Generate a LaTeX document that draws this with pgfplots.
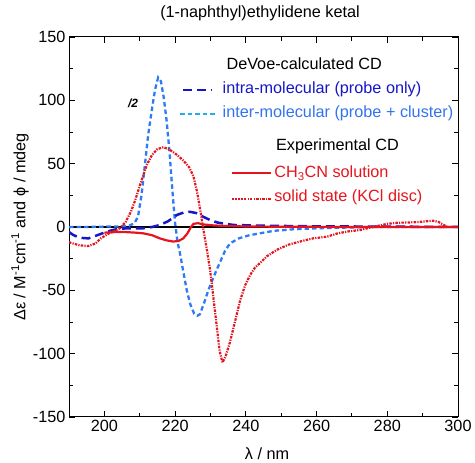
\documentclass[border=0pt]{standalone}
\usepackage{fontspec}
\setmainfont{Liberation Sans}
\usepackage{pgfplots}
\pgfplotsset{compat=1.18}
\definecolor{dblue}{RGB}{22,22,200}
\definecolor{lblue}{RGB}{47,122,245}
\definecolor{lbluetxt}{RGB}{50,115,240}
\definecolor{cyanl}{RGB}{30,175,240}
\definecolor{myred}{RGB}{230,20,30}
\newcommand{\fs}{\fontsize{16.3}{19}\selectfont}
\begin{document}
\begin{tikzpicture}[x=1bp,y=1bp]
\useasboundingbox (0,0) rectangle (475,463);
\begin{axis}[
  at={(69bp,46bp)}, anchor=south west,
  width=389bp, height=380bp, scale only axis,
  xmin=190, xmax=300, ymin=-150, ymax=150,
  xtick={200,220,...,300}, ytick={-150,-100,...,150},
  minor xtick={190,210,...,290}, minor ytick={-125,-75,...,125},
  tick align=inside, tick pos=both,
  major tick length=6bp, minor tick length=4bp,
  axis line style={line width=1bp},
  every tick/.style={line width=0.9bp, black},
  /pgf/number format/assume math mode=true,
  tick label style={font=\fs},
  title={(1-naphthyl)ethylidene ketal},
  every axis title/.style={font=\fs, at={(axis description cs:0.491,1.063)}, anchor=center},
  xlabel={λ / nm},
  every axis x label/.style={font=\fs, at={(axis description cs:0.509,-0.097)}, anchor=center},
  ylabel={Δε / M\textsuperscript{-1}cm\textsuperscript{-1} and ϕ / mdeg},
  every axis y label/.style={font=\fs, at={(axis description cs:-0.126,0.5)}, anchor=center, rotate=90},
  clip=true,
]
% zero line
\addplot[black, line width=1.3bp, forget plot] coordinates {(190,0) (300,0)};

% inter-molecular (probe + cluster), /2
\addplot[lblue, line width=2.3bp, dash pattern=on 4.5bp off 3bp] coordinates {
(190,0) (195,0) (200,0.3) (205,0.5) (207,1) (208.5,3) (209.5,8) (210.5,25) (211.5,50)
(212.4,73) (213.4,92) (214.3,108) (215.2,118) (216,115) (216.8,102) (217.6,84) (218.4,60)
(219.2,30) (220,3) (220.7,-12) (221.4,-21) (222.3,-35) (223.3,-50) (224.3,-61) (225.4,-68.5)
(226.3,-70) (227,-69) (228.2,-60) (229.4,-50) (230.8,-40) (232.2,-31) (234.1,-19) (235.5,-13)
(238,-9) (241,-6.5) (244,-5) (248,-3) (253.5,-1.8) (260,-1) (267.6,-0.5) (275,0) (290,0) (300,0)
};

% intra-molecular (probe only)
\addplot[dblue, line width=2.5bp, dash pattern=on 9bp off 5bp] coordinates {
(190,-4) (191.2,-6.3) (193,-8.5) (195.5,-9) (198,-6.5) (200.7,-3.7) (203,-2) (206.3,-1)
(211,-1) (213.5,0) (215.7,1.6) (218,4.5) (220.5,9.5) (222.5,11.5) (224.2,12) (226,11)
(228,8) (229.9,5.5) (232,3.5) (236.5,1.6) (245,1) (260,0.5) (280,0.3) (300,0)
};

% solid state (KCl disc)
\addplot[myred, line width=2.2bp, dash pattern=on 2.5bp off 1.2bp on 1.2bp off 1.2bp] coordinates {
(190,-12) (191.1,-13) (193,-14.5) (195.5,-15) (197.5,-13) (199,-9) (201,-5.5) (203,-3)
(204.4,-1) (206,4) (207.5,12) (208.7,21) (210.3,35) (212,49) (213.5,57) (215,61.5)
(216.7,63) (218.5,61) (220.5,57) (222.5,52) (224,47) (225.2,40) (226.2,28) (227.2,12)
(228,-2) (229,-18) (229.9,-34) (230.8,-55) (231.8,-79) (232.6,-98) (233.4,-107)
(234.3,-102) (235.5,-91) (237,-74) (238.4,-58) (239.8,-46) (241.2,-38) (242.6,-32)
(244,-28.5) (246,-23) (248.8,-18) (252,-14) (256,-11) (259,-9) (262.9,-7.7) (266,-5)
(269,-3.5) (272.3,-2.4) (276,0) (280,2.5) (283,3.4) (286,3.5) (289,4) (291,4.5) (293,5)
(294.5,4) (296,1.5) (297,0)
};

% CH3CN solution
\addplot[myred, line width=2.2bp] coordinates {
(200,-4.5) (203,-4) (206,-4) (209,-4.5) (211,-5) (213.5,-6.5) (215.7,-9) (217.5,-10.5)
(219.5,-11.5) (221,-11) (222.3,-9) (223.5,-5) (224.5,0) (225.2,2.5) (226.5,3) (228,2)
(231,1.2) (234.6,0.8) (240,0.4) (250,0.2) (270,0) (300,0)
};

% legend sample lines
\addplot[dblue, line width=2.5bp, dash pattern=on 9bp off 5bp, forget plot] coordinates {(222.3,108.3) (230.5,108.3)};
\addplot[cyanl, line width=2.3bp, dash pattern=on 4.5bp off 3bp, forget plot] coordinates {(221.4,89.2) (231.8,89.2)};
\addplot[myred, line width=2.2bp, forget plot] coordinates {(236,42.4) (247,42.4)};
\addplot[myred, line width=2.2bp, dash pattern=on 2.5bp off 1.2bp on 1.2bp off 1.2bp, forget plot] coordinates {(236,22.1) (247,22.1)};

\node[font=\fs, anchor=center] at (axis cs:256.5,129.2) {DeVoe-calculated CD};
\node[font=\fs, anchor=west, text=dblue, inner sep=0pt] at (axis cs:233.4,109) {intra-molecular (probe only)};
\node[font=\fs, anchor=west, text=lbluetxt, inner sep=0pt] at (axis cs:233.4,90) {inter-molecular (probe + cluster)};
\node[font=\fs, anchor=center] at (axis cs:265.9,63.4) {Experimental CD};
\node[font=\fs, anchor=west, text=myred, inner sep=0pt] at (axis cs:248,42.4) {CH\textsubscript{3}CN solution};
\node[font=\fs, anchor=west, text=myred, inner sep=0pt] at (axis cs:248,23.5) {solid state (KCl disc)};
\node[font=\fontsize{12}{14}\selectfont\itshape\bfseries, anchor=center] at (axis cs:208.1,97.9) {/2};
\end{axis}
\end{tikzpicture}
\end{document}
